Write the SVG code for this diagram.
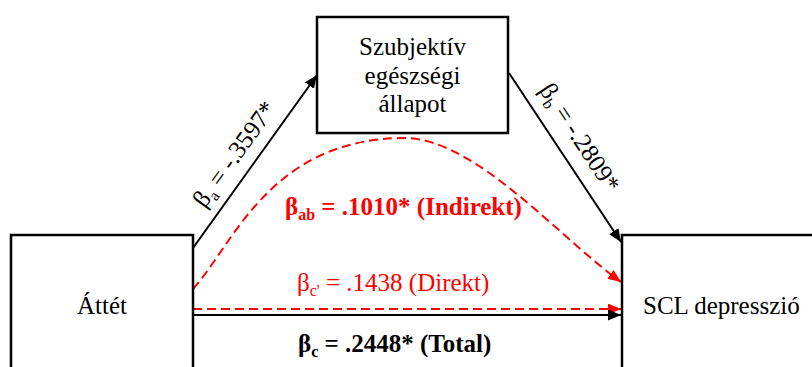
<svg xmlns="http://www.w3.org/2000/svg" width="812" height="367" viewBox="0 0 812 367">
<style>
text{font-family:"Liberation Serif","Times New Roman",serif;font-size:25px;fill:#000}
.box{fill:#fff;stroke:#000;stroke-width:2.5}
.ln{fill:none;stroke:#000;stroke-width:2}
.rd{fill:none;stroke:#f00;stroke-width:2;stroke-dasharray:9 5}
.red{fill:#f00}
.b{font-weight:bold}
.sub{font-size:16px}
</style>
<defs>
<marker id="ak" markerUnits="userSpaceOnUse" markerWidth="13" markerHeight="11" refX="13" refY="5.5" orient="auto">
<path d="M0,0 L13,5.5 L0,11 z" fill="#000"/>
</marker>
<marker id="ar" markerUnits="userSpaceOnUse" markerWidth="13" markerHeight="11" refX="13" refY="5.5" orient="auto">
<path d="M0,0 L13,5.5 L0,11 z" fill="#f00"/>
</marker>
</defs>
<rect width="812" height="367" fill="#fff"/>
<g id="connectors">
<line class="ln" x1="193" y1="248" x2="317" y2="75" marker-end="url(#ak)"/>
<line class="ln" x1="509" y1="73" x2="621" y2="242" marker-end="url(#ak)"/>
<path class="rd" d="M193,289 C233,245 270,138 405,138 C475,138 562,240 621,282" marker-end="url(#ar)"/>
<line class="rd" x1="193" y1="309" x2="621" y2="309" marker-end="url(#ar)"/>
<line class="ln" x1="193" y1="315" x2="621" y2="315" marker-end="url(#ak)"/>
<text transform="translate(241,159) rotate(-54.2)" text-anchor="middle">β<tspan class="sub" dy="5">a</tspan><tspan dy="-5"> = -.3597*</tspan></text>
<text transform="translate(573,142) rotate(56.7)" text-anchor="middle">β<tspan class="sub" dy="5">b</tspan><tspan dy="-5"> = -.2809*</tspan></text>
<text class="red b" x="285" y="215">β<tspan class="sub" dy="5">ab</tspan><tspan dy="-5"> = .1010* (Indirekt)</tspan></text>
<text class="red" x="297" y="291">β<tspan class="sub" dy="5">c'</tspan><tspan dy="-5"> = .1438 (Direkt)</tspan></text>
<text class="b" x="298" y="352">β<tspan class="sub" dy="5">c</tspan><tspan dy="-5"> = .2448* (Total)</tspan></text>
</g>
<g id="node-mediator">
<rect class="box" x="317" y="17" width="191" height="116"/>
<text x="412.5" y="55" text-anchor="middle">Szubjektív</text>
<text x="412.5" y="83.5" text-anchor="middle">egészségi</text>
<text x="412.5" y="112" text-anchor="middle">állapot</text>
</g>
<g id="node-x">
<rect class="box" x="11" y="235" width="182" height="140"/>
<text x="102" y="314" text-anchor="middle">Áttét</text>
</g>
<g id="node-y">
<rect class="box" x="622" y="235" width="200" height="140"/>
<text x="643" y="314">SCL depresszió</text>
</g>
</svg>
